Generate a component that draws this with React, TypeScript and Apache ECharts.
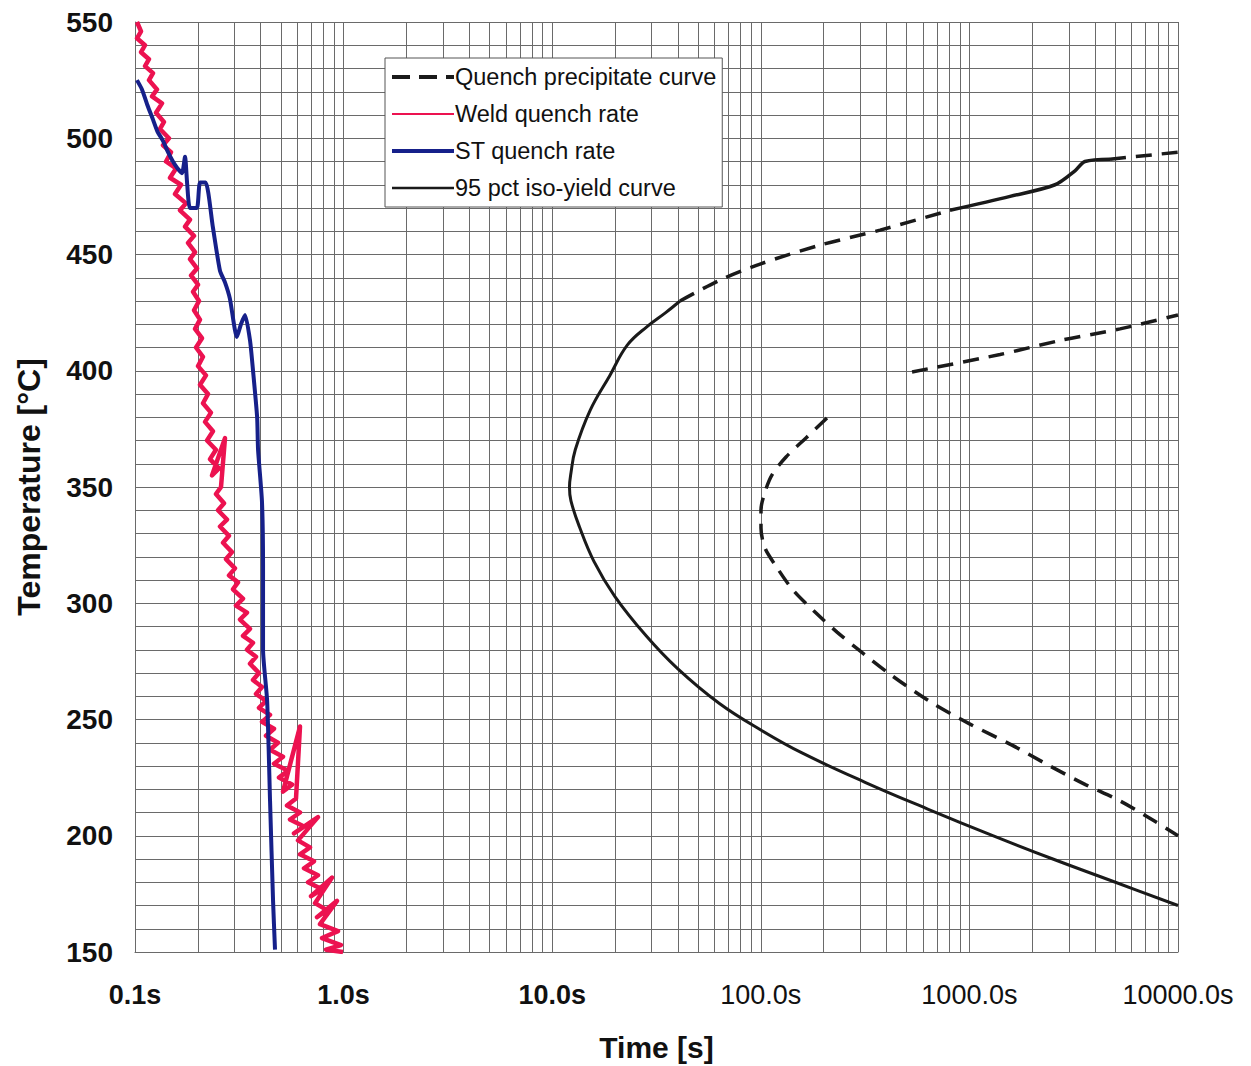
import React, { useEffect, useRef } from "react";
import * as echarts from "echarts";

// ---- axis ticks ----
const xMajorTicks = [0.1, 1, 10, 100, 1000, 10000];
const xMinorGrid = [
  0.2, 0.3, 0.4, 0.5, 0.6, 0.7, 0.8, 0.9,
  2, 3, 4, 5, 6, 7, 8, 9,
  20, 30, 40, 50, 60, 70, 80, 90,
  200, 300, 400, 500, 600, 700, 800, 900,
  2000, 3000, 4000, 5000, 6000, 7000, 8000, 9000,
];
const yLabelTicks = [150, 200, 250, 300, 350, 400, 450, 500, 550];

// ---- series (time [s], temperature [°C]) ----
const weldQuench: [number, number][] = [
  [0.1022, 550], [0.1069, 546], [0.1022, 543], [0.1117, 540], [0.1069, 537], [0.1167, 534],
  [0.1117, 531], [0.122, 528], [0.1167, 525], [0.1275, 521], [0.1207, 518], [0.1347, 515],
  [0.1261, 511], [0.1377, 507], [0.1318, 504], [0.1455, 500], [0.1362, 497], [0.1488, 494],
  [0.1408, 490], [0.1573, 487], [0.1472, 483], [0.1662, 480], [0.1555, 476], [0.1756, 472],
  [0.1643, 469], [0.1835, 465], [0.1737, 462], [0.1918, 458], [0.1795, 455], [0.194, 451],
  [0.1835, 448], [0.1983, 444], [0.1856, 441], [0.2005, 437], [0.1897, 434], [0.2027, 430],
  [0.1918, 426], [0.2049, 422], [0.194, 418], [0.2095, 414], [0.1961, 410], [0.2118, 406],
  [0.2005, 402], [0.219, 398], [0.2049, 394], [0.2239, 390], [0.2118, 386], [0.2313, 382],
  [0.2166, 378], [0.2365, 374], [0.2214, 370], [0.2444, 366], [0.2288, 362], [0.2527, 358],
  [0.2339, 355], [0.27, 371], [0.2584, 350], [0.2444, 347], [0.2672, 343], [0.25, 340],
  [0.2761, 336], [0.2555, 333], [0.2822, 329], [0.2642, 326], [0.2917, 322], [0.273, 319],
  [0.3015, 315], [0.2822, 312], [0.3117, 309], [0.2949, 306], [0.3294, 302], [0.3049, 299],
  [0.3442, 296], [0.3187, 293], [0.3558, 289], [0.3294, 286], [0.3678, 283], [0.3442, 280],
  [0.3802, 277], [0.3558, 274], [0.393, 270], [0.3678, 267], [0.4063, 264], [0.3802, 261],
  [0.4246, 258], [0.393, 255], [0.4438, 252], [0.4063, 249], [0.4638, 246], [0.4246, 243],
  [0.4848, 240], [0.4438, 237], [0.5123, 234], [0.4638, 231], [0.5414, 228], [0.4901, 225],
  [0.5658, 222], [0.5123, 219], [0.618, 247], [0.5913, 216], [0.5354, 213], [0.618, 210],
  [0.5534, 207], [0.6459, 204], [0.5784, 201], [0.7539, 208], [0.6045, 198], [0.6901, 195],
  [0.618, 192], [0.7213, 189], [0.6459, 186], [0.7539, 183], [0.6751, 180], [0.7879, 177],
  [0.6978, 174], [0.8798, 182], [0.7293, 171], [0.8325, 168], [0.7455, 165], [0.9298, 172],
  [0.7706, 162], [0.9401, 159], [0.7879, 156], [0.9716, 153], [0.8233, 151], [0.9934, 150],
];

const stQuench: [number, number][] = [
  [0.1022, 525], [0.108, 521], [0.115, 514], [0.122, 508], [0.128, 503], [0.136, 499],
  [0.144, 494], [0.152, 490], [0.16, 487], [0.168, 485], [0.1737, 492], [0.178, 480],
  [0.1835, 470], [0.198, 470], [0.205, 481], [0.218, 481], [0.236, 462], [0.2555, 443],
  [0.27, 438], [0.285, 431], [0.308, 414.5], [0.322, 420], [0.337, 424], [0.356, 413],
  [0.368, 400], [0.385, 380], [0.389, 366], [0.406, 344], [0.411, 316], [0.411, 280],
  [0.43, 258], [0.444, 215], [0.459, 172], [0.469, 151],
];

const quenchPrecipLower: [number, number][] = [
  [207.6, 379.7], [164.7, 371.1], [132.1, 362.9], [113.2, 355.2], [104.7, 347.8],
  [100.2, 340.1], [100.2, 332.4], [104.7, 323.8], [117, 316.6], [142.6, 305.7],
  [181.9, 296.2], [232, 287.6], [299, 279.5], [416, 269.5], [640, 258], [1007, 248],
  [1600, 239], [2432, 230], [3600, 222], [5272, 215], [7500, 207], [10000, 200],
];
const quenchPrecipUpper: [number, number][] = [
  [531, 399.5], [1403, 407], [2716, 413], [5272, 418], [10000, 424],
];

const isoYieldLower: [number, number][] = [
  [10000, 170], [5012, 180], [2512, 190], [1259, 200.5], [631, 211.5], [316, 223],
  [158.5, 235.5], [100, 245.5], [63.1, 257], [39.8, 272], [28.2, 286], [19.95, 303],
  [15.85, 318], [13.49, 333], [12.3, 344], [12.1, 350], [12.3, 356], [12.9, 366],
  [15.2, 383], [18.9, 398], [22.9, 411], [28.5, 419], [35, 425], [41, 430],
];
const isoYieldUpperDash1: [number, number][] = [
  [41, 430], [63.7, 439], [100, 446], [192, 454], [373, 460.5], [807, 469],
];
const isoYieldUpperSolid: [number, number][] = [
  [807, 469], [1567, 475], [2573, 480], [3207, 486], [3580, 490], [4720, 491],
];
const isoYieldUpperDash2: [number, number][] = [[4720, 491], [10000, 494]];

const FONT = "Liberation Sans, Arial, sans-serif";
const GRID_COLOR = "#6a6a6a";
const BLACK = "#1a1a1a";
const RED = "#ec1250";
const BLUE = "#16208a";

export default function App() {
  const ref = useRef<HTMLDivElement>(null);

  useEffect(() => {
    document.body.style.margin = "0";
    if (!ref.current) return;
    const chart = echarts.init(ref.current, undefined, { renderer: "svg" });

    const gridLines = [...xMajorTicks, ...xMinorGrid].map((v) => ({ xAxis: v }));

    chart.setOption({
      animation: false,
      backgroundColor: "#ffffff",
      grid: { left: 135, right: 73, top: 22, bottom: 114, outerBoundsMode: "none" },
      legend: {
        data: [
          { name: "Quench precipitate curve", lineStyle: { width: 4, color: BLACK, type: [18, 9] } },
          { name: "Weld quench rate", lineStyle: { width: 2, color: RED } },
          { name: "ST quench rate", lineStyle: { width: 4, color: BLUE } },
          { name: "95 pct iso-yield curve", lineStyle: { width: 2.5, color: BLACK } },
        ],
        orient: "vertical",
        left: 385,
        top: 58,
        z: 20,
        itemWidth: 62,
        itemHeight: 14,
        itemGap: 13,
        padding: [7, 6, 7, 5],
        borderColor: "#555",
        borderWidth: 1,
        backgroundColor: "#ffffff",
        selectedMode: false,
        itemStyle: { opacity: 0 },
        textStyle: { fontSize: 23.5, fontFamily: FONT, color: "#111", padding: [0, 0, 0, -4] },
      },
      xAxis: {
        type: "log",
        logBase: 10,
        min: 0.1,
        max: 10000,
        name: "Time [s]",
        nameLocation: "middle",
        nameGap: 80,
        nameTextStyle: { fontSize: 30, fontWeight: "bold", fontFamily: FONT, color: "#111" },
        axisLine: { show: true, lineStyle: { color: GRID_COLOR, width: 1 } },
        axisTick: { show: false },
        splitLine: { show: false },
        axisLabel: {
          margin: 29,
          fontSize: 27,
          fontFamily: FONT,
          color: "#111",
          formatter: (v: number) => {
            const s = Number(v).toFixed(1) + "s";
            return v < 50 ? "{b|" + s + "}" : s;
          },
          rich: { b: { fontSize: 27, fontWeight: "bold", fontFamily: FONT, color: "#111" } },
        },
      },
      yAxis: {
        type: "value",
        min: 150,
        max: 550,
        interval: 10,
        name: "Temperature [°C]",
        nameLocation: "middle",
        nameGap: 90,
        nameTextStyle: { fontSize: 32, fontWeight: "bold", fontFamily: FONT, color: "#111" },
        axisLine: { show: true, lineStyle: { color: GRID_COLOR, width: 1 } },
        axisTick: { show: false },
        splitLine: { show: true, lineStyle: { color: GRID_COLOR, width: 1 } },
        axisLabel: {
          margin: 22,
          fontSize: 28,
          fontWeight: "bold",
          fontFamily: FONT,
          color: "#111",
          formatter: (v: number) => (yLabelTicks.includes(Math.round(v)) ? String(Math.round(v)) : ""),
        },
      },
      series: [
        {
          name: "grid",
          type: "line",
          data: [[0.1, 150]],
          symbol: "none",
          silent: true,
          lineStyle: { width: 0 },
          z: 1,
          markLine: {
            silent: true,
            symbol: ["none", "none"],
            label: { show: false },
            lineStyle: { color: GRID_COLOR, width: 1, type: "solid" },
            emphasis: { disabled: true },
            data: gridLines,
          },
        },
        {
          name: "Quench precipitate curve",
          type: "line",
          data: quenchPrecipLower,
          symbol: "none",
          smooth: 0.3,
          z: 5,
          lineStyle: { color: BLACK, width: 3.5, type: [16, 10] },
          itemStyle: { color: BLACK },
        },
        {
          name: "Quench precipitate curve (upper)",
          type: "line",
          data: quenchPrecipUpper,
          symbol: "none",
          smooth: 0.3,
          z: 5,
          lineStyle: { color: BLACK, width: 3.5, type: [16, 10] },
        },
        {
          name: "95 pct iso-yield curve",
          type: "line",
          data: isoYieldLower,
          symbol: "none",
          smooth: 0.4,
          z: 5,
          lineStyle: { color: BLACK, width: 3 },
          itemStyle: { color: BLACK },
        },
        {
          name: "iso-yield upper dashed 1",
          type: "line",
          data: isoYieldUpperDash1,
          symbol: "none",
          smooth: 0.3,
          z: 5,
          lineStyle: { color: BLACK, width: 3.5, type: [16, 10] },
        },
        {
          name: "iso-yield upper solid",
          type: "line",
          data: isoYieldUpperSolid,
          symbol: "none",
          smooth: 0.3,
          z: 5,
          lineStyle: { color: BLACK, width: 3.5 },
        },
        {
          name: "iso-yield upper dashed 2",
          type: "line",
          data: isoYieldUpperDash2,
          symbol: "none",
          z: 5,
          lineStyle: { color: BLACK, width: 3.5, type: [16, 10] },
        },
        {
          name: "Weld quench rate",
          type: "line",
          data: weldQuench,
          symbol: "none",
          z: 6,
          lineStyle: { color: RED, width: 4.5, join: "round" },
          itemStyle: { color: RED },
        },
        {
          name: "ST quench rate",
          type: "line",
          data: stQuench,
          symbol: "none",
          smooth: 0.2,
          z: 7,
          lineStyle: { color: BLUE, width: 4 },
          itemStyle: { color: BLUE },
        },
      ],
    });

    return () => chart.dispose();
  }, []);

  return <div ref={ref} style={{ width: 1251, height: 1066 }} />;
}
